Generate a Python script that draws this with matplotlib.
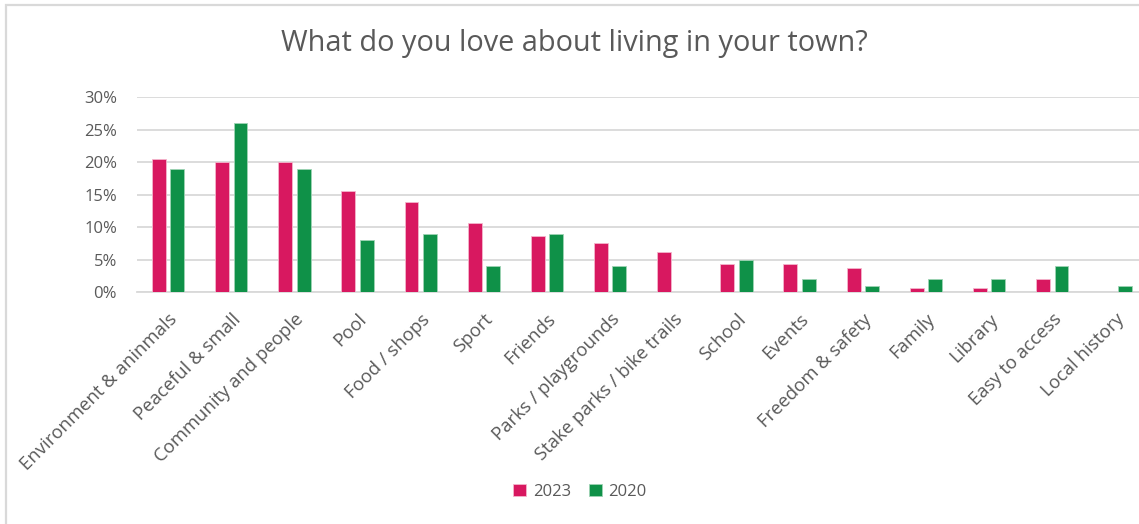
import numpy as np
import matplotlib.pyplot as plt
from matplotlib.patches import Rectangle

plt.rcParams['font.family'] = ['Open Sans', 'DejaVu Sans']

categories = ["Environment & aninmals", "Peaceful & small", "Community and people", "Pool",
              "Food / shops", "Sport", "Friends", "Parks / playgrounds",
              "Stake parks / bike trails", "School", "Events", "Freedom & safety",
              "Family", "Library", "Easy to access", "Local history"]
vals_2023 = [20.5, 20.0, 20.0, 15.6, 13.8, 10.6, 8.6, 7.5, 6.2, 4.3, 4.3, 3.8, 0.6, 0.6, 2.0, 0.0]
vals_2020 = [19.0, 26.0, 19.0, 8.0, 9.0, 4.0, 9.0, 4.0, 0.0, 5.0, 2.0, 1.0, 2.0, 2.0, 4.0, 1.0]
y_ticks = [0, 5, 10, 15, 20, 25, 30]

pink = '#D81860'
green = '#0F9148'
grey_txt = '#595959'
grid_col = '#D9D9D9'

fig = plt.figure(figsize=(11.39, 5.24), dpi=100)

# chart frame (left and top edges show)
fig.add_artist(Rectangle((6 / 1139, -0.1), 1.2, (524 - 5) / 524 + 0.1,
                         transform=fig.transFigure, fill=False,
                         edgecolor=grid_col, linewidth=1.6))

ax = fig.add_axes([136.5 / 1139, 231.7 / 524, 1010.5 / 1139, 195.3 / 524])

x = np.arange(len(categories))
w = 0.22
off = 0.146
ax.bar(x - off, vals_2023, w, color=pink, edgecolor='#F4B6CC', linewidth=0.6, label='2023', zorder=3)
ax.bar(x + off, vals_2020, w, color=green, edgecolor='#9FD3B4', linewidth=0.6, label='2020', zorder=3)

ax.set_xlim(-0.5, len(categories) - 0.5)
ax.set_ylim(0, 30)
ax.set_yticks(y_ticks)
ax.set_yticklabels([f"{t}%" for t in y_ticks])
ax.yaxis.grid(True, color=grid_col, linewidth=1.3, zorder=0)
for s in ['top', 'right', 'left']:
    ax.spines[s].set_visible(False)
ax.spines['bottom'].set_color(grid_col)
ax.spines['bottom'].set_linewidth(1.3)
ax.tick_params(axis='y', length=0, pad=14, labelsize=12, labelcolor=grey_txt)
ax.tick_params(axis='x', length=0, pad=13, labelsize=13.3, labelcolor=grey_txt)
ax.set_xticks(x)
ax.set_xticklabels(categories, rotation=45, ha='right', rotation_mode='anchor', va='top')

fig.text(574 / 1139, 1 - 44 / 524, "What do you love about living in your town?",
         ha='center', va='center', fontsize=20.8, color=grey_txt)

fig.legend(loc='center', bbox_to_anchor=(580 / 1139, 1 - 492 / 524), ncol=2, frameon=False,
           fontsize=12, labelcolor=grey_txt, handlelength=0.75, handleheight=0.75,
           handletextpad=0.4, columnspacing=1.1)

fig.savefig('out.png', dpi=100)
